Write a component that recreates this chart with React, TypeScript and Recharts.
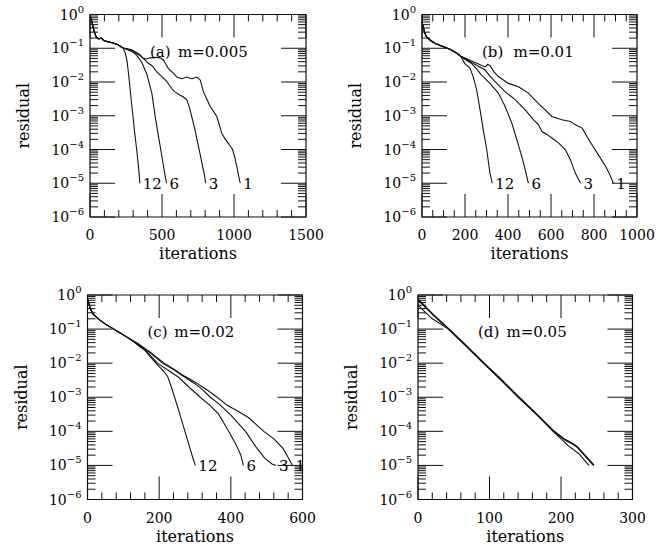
import React from 'react';
import { LineChart, Line, XAxis, YAxis, ReferenceArea, ReferenceDot, Label } from 'recharts';

const FONT = "'DejaVu Serif', 'Liberation Serif', serif";
const INK = '#111';

type P = [number, number];

// ---------- panel (a) m=0.005 ----------
const aStart: P[] = [[0, 0.9], [10, 0.68], [20, 0.45], [30, 0.3], [42, 0.22], [60, 0.19], [80, 0.2], [95, 0.17], [115, 0.16], [140, 0.15], [165, 0.14], [190, 0.13], [210, 0.115], [230, 0.102]];
const a12: P[] = [[245, 0.072], [258, 0.04], [272, 0.012], [285, 0.0033], [298, 0.001], [311, 0.0003], [324, 0.0001], [337, 0.00003], [346, 0.00001]];
const a6: P[] = [[260, 0.09], [290, 0.08], [315, 0.068], [340, 0.05], [360, 0.038], [378, 0.025], [395, 0.017], [412, 0.009], [430, 0.0045], [453, 0.00093], [476, 0.00024], [500, 0.00006], [520, 0.000018], [532, 0.00001]];
const a3: P[] = [[260, 0.095], [290, 0.085], [320, 0.07], [345, 0.062], [371, 0.05], [400, 0.037], [429, 0.031], [464, 0.02], [499, 0.0145], [534, 0.0102], [557, 0.0075], [575, 0.0058], [591, 0.0051], [620, 0.0042], [649, 0.0036], [673, 0.0029], [690, 0.0018], [707, 0.00093], [730, 0.00037], [754, 0.00012], [777, 0.00004], [792, 0.00002], [804, 0.00001]];
const a1: P[] = [[260, 0.097], [290, 0.09], [320, 0.076], [345, 0.066], [370, 0.05], [390, 0.048], [418, 0.052], [453, 0.054], [487, 0.052], [510, 0.045], [530, 0.032], [545, 0.025], [580, 0.018], [603, 0.014], [638, 0.0125], [672, 0.014], [707, 0.0125], [742, 0.014], [765, 0.0115], [788, 0.0051], [810, 0.0032], [834, 0.0019], [860, 0.0013], [881, 0.00093], [900, 0.0005], [915, 0.0003], [940, 0.0002], [962, 0.00015], [990, 0.0001], [1005, 0.00006], [1020, 0.00003], [1043, 0.00001]];

// ---------- panel (b) m=0.01 ----------
const bStart: P[] = [[0, 0.6], [5, 0.44], [12, 0.3], [20, 0.22], [40, 0.17], [60, 0.14], [85, 0.12], [110, 0.105], [135, 0.09], [160, 0.072], [180, 0.058]];
const b12: P[] = [[199, 0.035], [223, 0.026], [238, 0.0145], [254, 0.0059], [270, 0.0015], [285, 0.00038], [301, 0.0001], [316, 0.00002], [327, 0.00001]];
const b6: P[] = [[205, 0.045], [231, 0.035], [255, 0.024], [277, 0.016], [316, 0.0091], [355, 0.0047], [386, 0.0019], [418, 0.0006], [441, 0.000195], [464, 0.000063], [480, 0.000025], [495, 0.00001]];
const b3: P[] = [[205, 0.048], [231, 0.038], [260, 0.03], [293, 0.023], [316, 0.015], [340, 0.0102], [386, 0.0052], [433, 0.003], [480, 0.0015], [519, 0.00076], [542, 0.00054], [558, 0.00034], [581, 0.00028], [604, 0.00022], [636, 0.000155], [667, 0.0000977], [690, 0.00005], [713, 0.00002], [737, 0.00001]];
const b1: P[] = [[205, 0.05], [231, 0.042], [260, 0.035], [293, 0.028], [305, 0.033], [316, 0.031], [335, 0.02], [355, 0.0145], [402, 0.0091], [449, 0.0072], [495, 0.0047], [542, 0.0023], [573, 0.0015], [604, 0.00095], [651, 0.00076], [690, 0.00068], [713, 0.00054], [745, 0.00043], [776, 0.000195], [815, 0.000078], [854, 0.000032], [877, 0.000016], [890, 0.00001]];

// ---------- panel (c) m=0.02 ----------
const cStart: P[] = [[0, 0.75], [3, 0.6], [8, 0.4], [15, 0.28], [30, 0.2], [50, 0.14], [70, 0.105], [90, 0.078], [110, 0.058], [125, 0.046]];
const c12: P[] = [[140, 0.034], [160, 0.024], [177, 0.0145], [195, 0.009], [214, 0.0056], [224, 0.004], [237, 0.0016], [251, 0.00054], [265, 0.000174], [279, 0.000056], [293, 0.000018], [301, 0.00001]];
const c6: P[] = [[140, 0.036], [165, 0.022], [195, 0.01], [225, 0.0062], [255, 0.0038], [285, 0.0019], [315, 0.001], [340, 0.0006], [365, 0.00033], [394, 0.0001], [415, 0.00004], [428, 0.00002], [435, 0.00001]];
const c3: P[] = [[140, 0.038], [175, 0.02], [209, 0.01], [240, 0.0065], [270, 0.004], [300, 0.0025], [320, 0.0017], [343, 0.001], [370, 0.0006], [400, 0.0003], [441, 0.0001], [470, 0.000035], [495, 0.000016], [515, 0.000011], [526, 0.00001]];
const c1: P[] = [[140, 0.038], [175, 0.021], [214, 0.01], [240, 0.0068], [265, 0.0045], [290, 0.0032], [305, 0.0026], [315, 0.0022], [335, 0.0016], [362, 0.001], [390, 0.00058], [420, 0.00039], [450, 0.00025], [492, 0.0001], [520, 0.00006], [545, 0.000032], [560, 0.000017], [572, 0.00001]];

// ---------- panel (d) m=0.05 ----------
const dUpper: P[] = [[0, 0.74], [20, 0.28], [43, 0.1], [65, 0.036], [92, 0.01], [115, 0.0035], [141, 0.001], [165, 0.00033], [190, 0.0001], [205, 0.000058], [215, 0.000045], [222, 0.000036], [233, 0.00002], [246, 0.00001]];
const dLower: P[] = [[0, 0.5], [20, 0.2], [43, 0.1], [92, 0.0098], [141, 0.00098], [170, 0.00026], [190, 0.000095], [210, 0.000038], [225, 0.000022], [239, 0.00001]];

// ---------- ticks ----------
const yTicks: number[] = [];
for (let n = -6; n <= -1; n++) {
  yTicks.push(Number(`1e${n}`));
  for (let k = 2; k <= 9; k++) yTicks.push(Number(`${k}e${n}`));
}
yTicks.push(1);

const toPts = (arr: P[]) => arr.map(([x, y]) => ({ x, y }));

type Series = { key: string; pts: P[]; label?: string; w?: number };

type PanelProps = {
  cx: number; cy: number; cw: number; ch: number;
  pl: number; pt: number; pw: number; ph: number;
  xMax: number; xMajor: number; xMinor: number;
  tag: string; mText: string; mOff: number;
  series: Series[];
};

const YW = 50;
const XH = 30;

function Panel(p: PanelProps) {
  const margin = {
    left: p.pl - p.cx - YW,
    top: p.pt - p.cy,
    right: p.cx + p.cw - p.pl - p.pw,
    bottom: p.cy + p.ch - p.pt - p.ph - XH,
  };
  const xTicks: number[] = [];
  for (let i = 0; i * p.xMinor <= p.xMax + 1e-9; i++) xTicks.push(i * p.xMinor);

  const yTick = (props: any) => {
    const { x, y, payload } = props;
    const v = payload.value as number;
    const lg = Math.log10(v);
    const e = Math.round(lg);
    const major = Math.abs(lg - e) < 1e-6;
    const len = major ? 25 : 8;
    return (
      <g>
        <line x1={x} x2={x + len} y1={y} y2={y} stroke={INK} strokeWidth={1} />
        <line x1={x + p.pw - len} x2={x + p.pw} y1={y} y2={y} stroke={INK} strokeWidth={1} />
        {major && (
          <text x={x - 6} y={y + 5} textAnchor="end" fontFamily={FONT} fontSize={14} fill="#000">
            10<tspan dy={-7} fontSize={10}>{e === 0 ? '0' : '\u2212' + String(-e)}</tspan>
          </text>
        )}
      </g>
    );
  };

  const xTick = (props: any) => {
    const { x, y, payload } = props;
    const v = payload.value as number;
    const major = Math.abs(v / p.xMajor - Math.round(v / p.xMajor)) < 1e-6;
    const len = major ? 23 : 7;
    return (
      <g>
        <line x1={x} x2={x} y1={y} y2={y - len} stroke={INK} strokeWidth={1} />
        <line x1={x} x2={x} y1={y - p.ph} y2={y - p.ph + len} stroke={INK} strokeWidth={1} />
        {major && (
          <text x={x} y={y + 23} textAnchor="middle" fontFamily={FONT} fontSize={14} fill="#000">
            {String(v)}
          </text>
        )}
      </g>
    );
  };

  const xTitle = (props: any) => {
    const vb = props.viewBox;
    return (
      <text x={vb.x + vb.width / 2} y={vb.y + 42} textAnchor="middle" fontFamily={FONT} fontSize={16} fill="#000">
        iterations
      </text>
    );
  };

  const yTitle = (props: any) => {
    const vb = props.viewBox;
    const left = vb.x + vb.width;
    const top = vb.y;
    const cx = left - 61;
    const cy = top + vb.height / 2;
    return (
      <g>
        <text x={cx} y={cy} transform={`rotate(-90 ${cx} ${cy})`} textAnchor="middle" fontFamily={FONT} fontSize={16} fill="#000">
          residual
        </text>
        <text y={top + 42} fontFamily={FONT} fontSize={15} fill="#000">
          <tspan x={left + 60}>{p.tag}</tspan>
          <tspan x={left + 60 + p.mOff}>{p.mText}</tspan>
        </text>
      </g>
    );
  };

  return (
    <div style={{ position: 'absolute', left: p.cx, top: p.cy }}>
      <LineChart width={p.cw} height={p.ch} margin={margin}>
        <XAxis
          type="number"
          dataKey="x"
          domain={[0, p.xMax]}
          ticks={xTicks}
          interval={0}
          allowDataOverflow
          height={XH}
          tickSize={0}
          tickMargin={0}
          axisLine={false}
          tickLine={false}
          tick={xTick}
        >
          <Label content={xTitle} />
        </XAxis>
        <YAxis
          type="number"
          scale="log"
          domain={[1e-6, 1]}
          ticks={yTicks}
          interval={0}
          allowDataOverflow
          width={YW}
          tickSize={0}
          tickMargin={0}
          axisLine={false}
          tickLine={false}
          tick={yTick}
        >
          <Label content={yTitle} />
        </YAxis>
        <ReferenceArea x1={0} x2={p.xMax} y1={1e-6} y2={1} fill="none" stroke={INK} strokeWidth={1.2} />
        {p.series.map((s) => (
          <Line
            key={s.key}
            data={toPts(s.pts)}
            dataKey="y"
            type="linear"
            stroke={INK}
            strokeWidth={s.w ?? 1.1}
            dot={false}
            activeDot={false}
            isAnimationActive={false}
          />
        ))}
        {p.series.filter((s) => s.label).map((s) => {
          const last = s.pts[s.pts.length - 1];
          return (
            <ReferenceDot
              key={'lbl' + s.key}
              x={last[0]}
              y={last[1]}
              r={1}
              fill="none"
              stroke="none"
              label={{ value: s.label, position: 'right', offset: 2, fill: '#000', fontSize: 15, fontFamily: FONT }}
            />
          );
        })}
      </LineChart>
    </div>
  );
}

export default function App() {
  return (
    <div style={{ position: 'absolute', left: 0, top: 0, width: 663, height: 545, background: '#fff' }}>
      <Panel
        cx={0} cy={0} cw={331} ch={272} pl={90} pt={14.5} pw={216} ph={202.5}
        xMax={1500} xMajor={500} xMinor={100} tag="(a)" mText="m=0.005" mOff={28}
        series={[
          { key: 'a12', pts: [...aStart, ...a12], label: '12' },
          { key: 'a6', pts: [...aStart, ...a6], label: '6' },
          { key: 'a3', pts: [...aStart, ...a3], label: '3' },
          { key: 'a1', pts: [...aStart, ...a1], label: '1' },
        ]}
      />
      <Panel
        cx={331} cy={0} cw={332} ch={272} pl={422} pt={14.5} pw={215} ph={202.5}
        xMax={1000} xMajor={200} xMinor={50} tag="(b)" mText="m=0.01" mOff={31.5}
        series={[
          { key: 'b12', pts: [...bStart, ...b12], label: '12' },
          { key: 'b6', pts: [...bStart, ...b6], label: '6' },
          { key: 'b3', pts: [...bStart, ...b3], label: '3' },
          { key: 'b1', pts: [...bStart, ...b1], label: '1' },
        ]}
      />
      <Panel
        cx={0} cy={272} cw={331} ch={273} pl={87.5} pt={295} pw={215} ph={204.5}
        xMax={600} xMajor={200} xMinor={40} tag="(c)" mText="m=0.02" mOff={26.7}
        series={[
          { key: 'c12', pts: [...cStart, ...c12], label: '12' },
          { key: 'c6', pts: [...cStart, ...c6], label: '6' },
          { key: 'c3', pts: [...cStart, ...c3], label: '3' },
          { key: 'c1', pts: [...cStart, ...c1], label: '1' },
        ]}
      />
      <Panel
        cx={331} cy={272} cw={332} ch={273} pl={418} pt={295} pw={214.5} ph={204.5}
        xMax={300} xMajor={100} xMinor={20} tag="(d)" mText="m=0.05" mOff={28.5}
        series={[
          { key: 'dU', pts: dUpper, w: 1.8 },
          { key: 'dL', pts: dLower },
        ]}
      />
    </div>
  );
}
